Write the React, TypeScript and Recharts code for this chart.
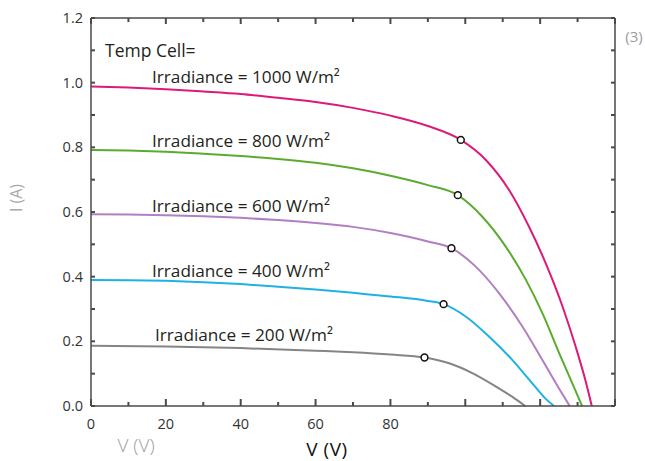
import React from 'react';
import { ComposedChart, Line, Scatter, XAxis, YAxis } from 'recharts';

const irr1000 = [
  [0, 0.988], [10, 0.985], [20, 0.98], [30, 0.973], [40, 0.965], [50, 0.953], [60, 0.94],
  [70, 0.922], [80, 0.898], [90, 0.866], [98.8, 0.823], [105.5, 0.761], [111.7, 0.668],
  [117, 0.555], [121.5, 0.441], [126, 0.307], [129.5, 0.183], [132.2, 0.075], [133.8, 0],
];
const irr800 = [
  [0, 0.792], [10, 0.79], [20, 0.786], [30, 0.78], [40, 0.773], [50, 0.764], [60, 0.752],
  [70, 0.735], [80, 0.712], [90, 0.683], [98, 0.652], [104.5, 0.586], [110.8, 0.493],
  [116.2, 0.39], [120.6, 0.287], [125.1, 0.163], [128.6, 0.07], [131.2, 0],
];
const irr600 = [
  [0, 0.593], [10, 0.592], [20, 0.59], [30, 0.587], [40, 0.582], [50, 0.575], [60, 0.566],
  [70, 0.554], [80, 0.535], [90, 0.509], [96.3, 0.488], [102.8, 0.431], [109, 0.349],
  [115.3, 0.245], [120.6, 0.142], [125, 0.055], [127.9, 0],
];
const irr400 = [
  [0, 0.39], [10, 0.389], [20, 0.387], [30, 0.383], [40, 0.377], [50, 0.369], [60, 0.36],
  [70, 0.35], [80, 0.339], [90, 0.325], [94.2, 0.315], [100.2, 0.276], [106.4, 0.214],
  [112.6, 0.142], [117.9, 0.07], [121.5, 0.022], [123.7, 0],
];
const irr200 = [
  [0, 0.186], [20, 0.184], [40, 0.179], [60, 0.171], [70, 0.166], [80, 0.159], [89.1, 0.15],
  [95.7, 0.132], [102, 0.101], [108.2, 0.06], [112.6, 0.028], [116, 0],
];
const mppPoints = [
  [98.8, 0.823], [98, 0.652], [96.3, 0.488], [94.2, 0.315], [89.1, 0.15],
];
const curveLabels = [
  { v: 16.3, i: 1.0, text: 'Irradiance = 1000 W/m²' },
  { v: 16.3, i: 0.8, text: 'Irradiance = 800 W/m²' },
  { v: 16.3, i: 0.6, text: 'Irradiance = 600 W/m²' },
  { v: 16.3, i: 0.4, text: 'Irradiance = 400 W/m²' },
  { v: 17.1, i: 0.2, text: 'Irradiance = 200 W/m²' },
];
const xTicks = [0, 10, 20, 30, 40, 50, 60, 70, 80, 90, 100, 110, 120, 130, 140];
const xTickLabels = ['0', '20', '40', '60', '80'];
const yTicks = [0, 0.1, 0.2, 0.3, 0.4, 0.5, 0.6, 0.7, 0.8, 0.9, 1.0, 1.1, 1.2];
const yTickLabels = ['0.0', '0.2', '0.4', '0.6', '0.8', '1.0', '1.2'];

const toPts = (arr: number[][]) => arr.map(([v, i]) => ({ v, i }));

const series = [
  { name: '1000', data: toPts(irr1000), color: '#dc1a78' },
  { name: '800', data: toPts(irr800), color: '#5bab2f' },
  { name: '600', data: toPts(irr600), color: '#b27fc2' },
  { name: '400', data: toPts(irr400), color: '#1eb1e4' },
  { name: '200', data: toPts(irr200), color: '#858585' },
];

const FONT = '"Open Sans", "DejaVu Sans", sans-serif';
const AXIS = '#4a4a4a';

const BottomTick = (p: any) => {
  const v = p.payload.value;
  const lbl = String(v);
  const major = v % 20 === 0;
  return (
    <g>
      <line x1={p.x} x2={p.x} y1={p.y} y2={p.y - (major ? 7 : 4)} stroke={AXIS} strokeWidth={2} />
      {xTickLabels.includes(lbl) && (
        <text x={p.x} y={p.y + 23} textAnchor="middle" fontSize={14.5} fill="#333" fontFamily={FONT}>
          {lbl}
        </text>
      )}
    </g>
  );
};
const TopTick = (p: any) => {
  const v = p.payload.value;
  const major = v % 20 === 0;
  return <line x1={p.x} x2={p.x} y1={p.y} y2={p.y + (major ? 6 : 4)} stroke={AXIS} strokeWidth={2} />;
};
const LeftTick = (p: any) => {
  const v = p.payload.value;
  const lbl = v.toFixed(1);
  return (
    <g>
      <line x1={p.x} x2={p.x + 4} y1={p.y} y2={p.y} stroke={AXIS} strokeWidth={2} />
      {yTickLabels.includes(lbl) && (
        <text x={p.x - 8} y={p.y + 5} textAnchor="end" fontSize={14.5} fill="#333" fontFamily={FONT}>
          {lbl}
        </text>
      )}
    </g>
  );
};
const RightTick = (p: any) => (
  <line x1={p.x} x2={p.x - 4} y1={p.y} y2={p.y} stroke={AXIS} strokeWidth={2} />
);

const Marker = (p: any) => (
  <circle cx={p.cx} cy={p.cy} r={3.4} fill="#fff" stroke="#111" strokeWidth={1.5} />
);
const CurveLabel = (p: any) => (
  <text x={p.cx} y={p.cy} fontSize={17.2} fill="#231f20" fontFamily={FONT}>
    {p.payload.text}
  </text>
);

export default function App() {
  return (
    <div style={{ position: 'absolute', left: 0, top: 0, width: 645, height: 461, background: '#fff' }}>
      <ComposedChart width={645} height={461} margin={{ top: 0, right: 0, bottom: 0, left: 0 }}>
        <XAxis
          xAxisId="b"
          type="number"
          dataKey="v"
          domain={[0, 140]}
          ticks={xTicks}
          interval={0}
          height={55}
          tickSize={0}
          tickMargin={0}
          tick={<BottomTick />}
          axisLine={{ stroke: AXIS, strokeWidth: 1.5 }}
          tickLine={false}
        />
        <XAxis
          xAxisId="t"
          orientation="top"
          type="number"
          dataKey="v"
          domain={[0, 140]}
          ticks={xTicks}
          interval={0}
          height={18}
          tickSize={0}
          tickMargin={0}
          tick={<TopTick />}
          axisLine={{ stroke: AXIS, strokeWidth: 1.5 }}
          tickLine={false}
        />
        <YAxis
          yAxisId="l"
          type="number"
          dataKey="i"
          domain={[0, 1.2]}
          ticks={yTicks}
          interval={0}
          width={91}
          tickSize={0}
          tickMargin={0}
          tick={<LeftTick />}
          axisLine={{ stroke: AXIS, strokeWidth: 1.5 }}
          tickLine={false}
        />
        <YAxis
          yAxisId="r"
          orientation="right"
          type="number"
          dataKey="i"
          domain={[0, 1.2]}
          ticks={yTicks}
          interval={0}
          width={30}
          tickSize={0}
          tickMargin={0}
          tick={<RightTick />}
          axisLine={{ stroke: AXIS, strokeWidth: 1.5 }}
          tickLine={false}
        />
        {series.map((s) => (
          <Line
            key={s.name}
            xAxisId="b"
            yAxisId="l"
            data={s.data}
            dataKey="i"
            type="monotone"
            stroke={s.color}
            strokeWidth={2}
            dot={false}
            activeDot={false}
            isAnimationActive={false}
          />
        ))}
        <Scatter
          xAxisId="b"
          yAxisId="l"
          data={toPts(mppPoints)}
          dataKey="i"
          shape={<Marker />}
          isAnimationActive={false}
        />
        <Scatter
          xAxisId="t"
          yAxisId="r"
          data={curveLabels}
          dataKey="i"
          shape={<CurveLabel />}
          isAnimationActive={false}
        />
      </ComposedChart>
      <svg width={645} height={461} style={{ position: 'absolute', left: 0, top: 0, pointerEvents: 'none' }}>
        <text x={105} y={57} fontSize={17.5} fill="#231f20" fontFamily={FONT}>Temp Cell=</text>
        <text x={327} y={456} fontSize={19} fill="#111" fontFamily={FONT} textAnchor="middle" letterSpacing={0.5}>V (V)</text>
        <text x={136} y={452} fontSize={19} fill="#a0a0a0" fontFamily={FONT} textAnchor="middle" fontWeight={300}>V (V)</text>
        <text x={22} y={198} fontSize={16} fill="#a8a8a8" fontFamily={FONT} textAnchor="middle" transform="rotate(-90 22 198)">I (A)</text>
        <text x={634} y={42} fontSize={15} fill="#9c9c9c" fontFamily={FONT} textAnchor="middle">(3)</text>
      </svg>
    </div>
  );
}
